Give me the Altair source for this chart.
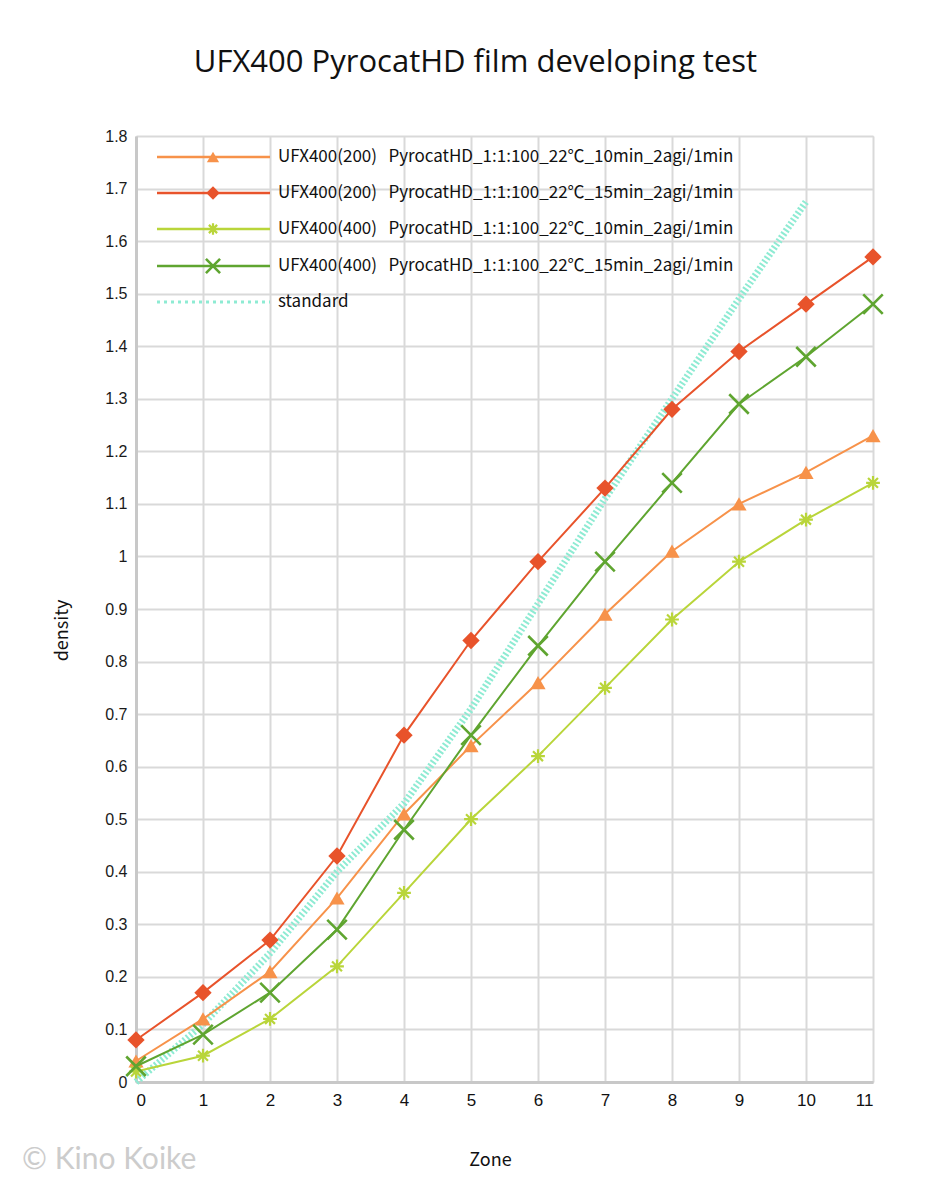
import altair as alt
import pandas as pd

# ---- data ----
zones = list(range(12))
ufx200_10 = [0.04, 0.12, 0.21, 0.35, 0.51, 0.64, 0.76, 0.89, 1.01, 1.10, 1.16, 1.23]
ufx200_15 = [0.08, 0.17, 0.27, 0.43, 0.66, 0.84, 0.99, 1.13, 1.28, 1.39, 1.48, 1.57]
ufx400_10 = [0.02, 0.05, 0.12, 0.22, 0.36, 0.50, 0.62, 0.75, 0.88, 0.99, 1.07, 1.14]
ufx400_15 = [0.03, 0.09, 0.17, 0.29, 0.48, 0.66, 0.83, 0.99, 1.14, 1.29, 1.38, 1.48]
std_zones = list(range(11))
standard = [0.0, 0.11, 0.245, 0.40, 0.53, 0.71, 0.91, 1.11, 1.30, 1.49, 1.675]

NB = "\u00a0"
labels = [
    f"UFX400(200){NB*3}PyrocatHD_1:1:100_22℃_10min_2agi/1min",
    f"UFX400(200){NB*3}PyrocatHD_1:1:100_22℃_15min_2agi/1min",
    f"UFX400(400){NB*3}PyrocatHD_1:1:100_22℃_10min_2agi/1min",
    f"UFX400(400){NB*3}PyrocatHD_1:1:100_22℃_15min_2agi/1min",
    "standard",
]
series_values = [ufx200_10, ufx200_15, ufx400_10, ufx400_15]
colors = ["#F7924A", "#E8532B", "#B9D53A", "#5FA530"]
std_color = "#8EEBD3"

XSHAPE = "M-1,-1L1,1M-1,1L1,-1"
ASTER = "M-1,0L1,0M0,-1L0,1M-0.72,-0.72L0.72,0.72M-0.72,0.72L0.72,-0.72"
markers = [
    dict(shape="triangle-up", filled=True, size=230, strokeWidth=0),
    dict(shape="diamond", filled=True, size=300, strokeWidth=0),
    dict(shape=ASTER, filled=False, size=190, strokeWidth=2.2),
    dict(shape=XSHAPE, filled=False, size=380, strokeWidth=2.6),
]
legend_markers = [
    dict(shape="triangle-up", filled=True, size=150, strokeWidth=0),
    dict(shape="diamond", filled=True, size=180, strokeWidth=0),
    dict(shape=ASTER, filled=False, size=130, strokeWidth=2.2),
    dict(shape=XSHAPE, filled=False, size=200, strokeWidth=2.6),
]

W, H = 737, 946
LBL_FONT = "Liberation Sans"
CJK = "Noto Sans CJK JP"

x_enc = alt.X(
    "zone:Q",
    scale=alt.Scale(domain=[0, 11], nice=False, zero=False),
    axis=alt.Axis(
        values=zones, title="Zone", grid=True, gridColor="#D9D9D9", gridWidth=2,
        ticks=False, domainColor="#C8C8C8", domainWidth=3,
        labelFont=LBL_FONT, labelFontSize=17, labelColor="#111111", labelPadding=10,
        titleFont=CJK, titleFontSize=18, titleFontWeight="normal", titleColor="#111111",
        titleX=354, titleY=78, titleAnchor="middle", titleAlign="center",
        titleBaseline="middle",
    ),
)
y_enc = alt.Y(
    "density:Q",
    scale=alt.Scale(domain=[0, 1.8], nice=False),
    axis=alt.Axis(
        values=[round(i * 0.1, 1) for i in range(19)], format="~g", title="density",
        grid=True, gridColor="#D9D9D9", gridWidth=2, ticks=False,
        domainColor="#C8C8C8", domainWidth=3,
        labelFont=LBL_FONT, labelFontSize=16, labelColor="#1A1A1A", labelPadding=9,
        titleFont=CJK, titleFontSize=18, titleFontWeight="normal", titleColor="#111111",
        titleX=-74, titleY=494, titleAngle=270, titleAlign="center",
        titleBaseline="middle",
    ),
)

layers = []

std_df = pd.DataFrame({"zone": std_zones, "density": standard})
layers.append(
    alt.Chart(std_df).mark_line(color=std_color, strokeWidth=7, strokeDash=[2, 2.2])
    .encode(x=x_enc, y=y_enc)
)

for vals, col, mk in zip(series_values, colors, markers):
    df = pd.DataFrame({"zone": zones, "density": vals})
    layers.append(alt.Chart(df).mark_line(color=col, strokeWidth=2).encode(x=x_enc, y=y_enc))
    pt = dict(mk)
    if pt["filled"]:
        pt["fill"] = col
        pt["fillOpacity"] = 1
    else:
        pt["stroke"] = col
    pt["opacity"] = 1
    layers.append(alt.Chart(df).mark_point(**pt).encode(x=x_enc, y=y_enc))

# ---- custom legend (inside the plot, top-left) ----
one = pd.DataFrame({"k": [0]})
row_y = [21, 57, 93, 130, 166]
for i, lab in enumerate(labels):
    yv = row_y[i]
    if i < 4:
        layers.append(
            alt.Chart(one).mark_rule(color=colors[i], strokeWidth=2.5)
            .encode(x=alt.value(21), x2=alt.value(134), y=alt.value(yv))
        )
        pt = dict(legend_markers[i])
        if pt["filled"]:
            pt["fill"] = colors[i]
            pt["fillOpacity"] = 1
        else:
            pt["stroke"] = colors[i]
        pt["opacity"] = 1
        layers.append(
            alt.Chart(one).mark_point(**pt).encode(x=alt.value(77), y=alt.value(yv))
        )
    else:
        layers.append(
            alt.Chart(one).mark_rule(color=std_color, strokeWidth=3, strokeDash=[3, 4])
            .encode(x=alt.value(21), x2=alt.value(134), y=alt.value(yv))
        )
    layers.append(
        alt.Chart(one).mark_text(
            text=lab, align="left", baseline="middle", font=CJK, fontSize=17,
            color="#111111",
        ).encode(x=alt.value(142), y=alt.value(yv))
    )

# watermark
layers.append(
    alt.Chart(one).mark_text(
        text="© Kino Koike", align="left", baseline="middle", font="Lato",
        fontSize=30, color="#CCCCCC",
    ).encode(x=alt.value(-114), y=alt.value(1024))
)

chart = alt.layer(*layers).properties(
    width=W,
    height=H,
    title=alt.TitleParams(
        "UFX400 PyrocatHD film developing test", font="Open Sans", fontSize=31,
        fontWeight="normal", color="#111111", anchor="middle", offset=49, dx=-29,
    ),
    autosize=alt.AutoSizeParams(type="none"),
    padding={"left": 136, "top": 136, "right": 62, "bottom": 118},
).configure_view(stroke=None).configure(background="white")

chart.save("out.html", embed_options={"renderer": "svg", "actions": False})
